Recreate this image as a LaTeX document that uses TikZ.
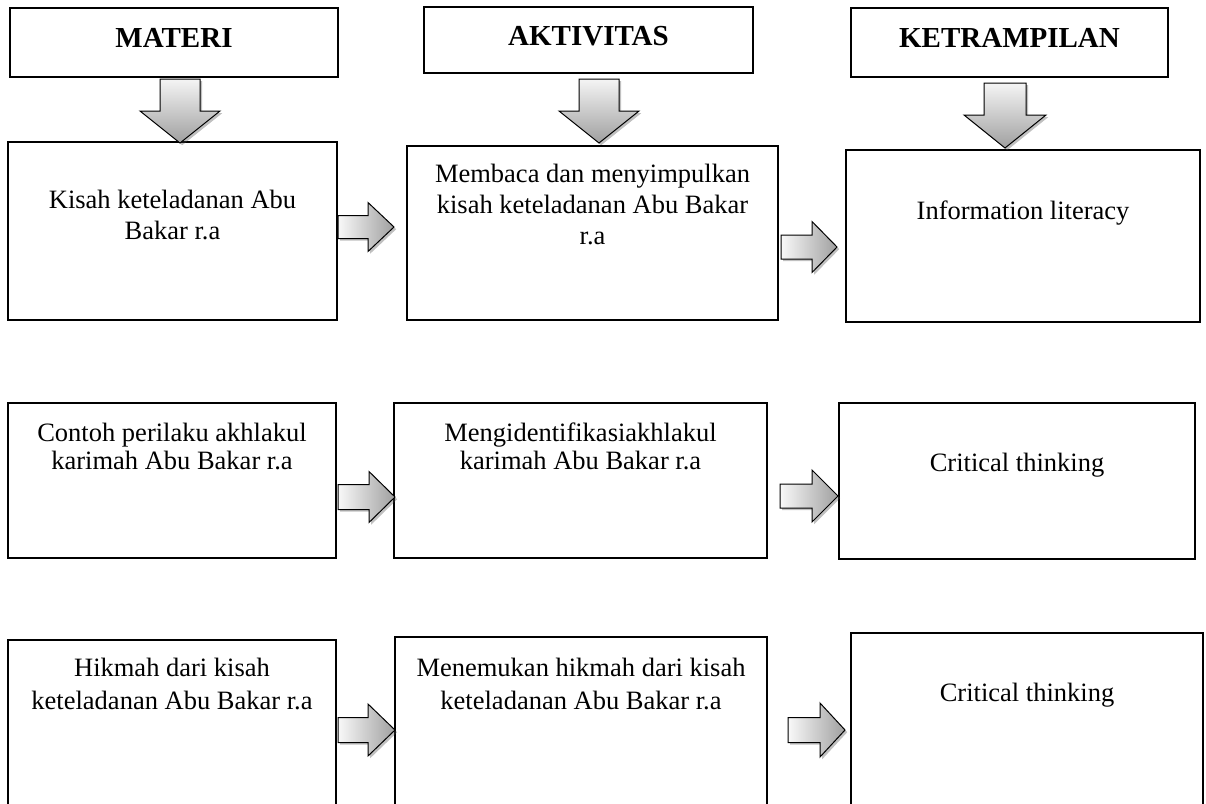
\documentclass[tikz,border=0pt]{standalone}
\usepackage{fontspec}
\setmainfont{Liberation Serif}
\usetikzlibrary{shadows,calc}
\tikzset{
  boxst/.style={draw=black, line width=1.1pt, fill=white, inner sep=0pt, outer sep=0pt, anchor=north west},
  headtxt/.style={font=\fontsize{29}{34}\selectfont\bfseries, anchor=base, inner sep=0pt},
  txt/.style={font=\fontsize{26.5}{#1}\selectfont, align=center, inner sep=0pt, anchor=north},
  txt/.default=30,
  arrowbase/.style={draw=black, line width=1pt, line join=miter,
    drop shadow={shadow xshift=2.2pt, shadow yshift=-2.2pt, opacity=0.35, fill=black!70}},
  downfill/.style={arrowbase, top color=gray!8, bottom color=gray!75},
  rightfill/.style={arrowbase, left color=gray!5, right color=gray!75},
}
% #1 start, #2 tip, #3 shaft half width, #4 head half width, #5 head length
\newcommand\myDownArrow[5]{\path[downfill] let \p1=(#1), \p2=(#2) in
  (\x1-#3,\y1) -- (\x1+#3,\y1) -- (\x1+#3,\y2+#5) -- (\x1+#4,\y2+#5) -- (\x2,\y2)
  -- (\x1-#4,\y2+#5) -- (\x1-#3,\y2+#5) -- cycle;}
\newcommand\myRightArrow[5]{\path[rightfill] let \p1=(#1), \p2=(#2) in
  (\x1,\y1+#3) -- (\x2-#5,\y1+#3) -- (\x2-#5,\y1+#4) -- (\x2,\y2)
  -- (\x2-#5,\y1-#4) -- (\x2-#5,\y1-#3) -- (\x1,\y1-#3) -- cycle;}
\begin{document}
\begin{tikzpicture}[x=1pt,y=-1pt]
\useasboundingbox (0,0) rectangle (1206,803);
\clip (0,0) rectangle (1206,803);
\fill[white] (0,0) rectangle (1206,803);

% header boxes
\node[boxst, minimum width=328pt, minimum height=69pt] (h1) at (10,8) {};
\node[boxst, minimum width=329pt, minimum height=66pt] (h2) at (424,7) {};
\node[boxst, minimum width=317pt, minimum height=69pt] (h3) at (851,8) {};
\node[headtxt] (h1t) at ($(h1.north)+(0,39)$) {MATERI};
\node[headtxt] (h2t) at ($(h2.north)+(0,38)$) {AKTIVITAS};
\node[headtxt] (h3t) at ($(h3.north)+(0,39)$) {KETRAMPILAN};

% row 1
\node[boxst, minimum width=329pt, minimum height=178pt] (b1) at (8,142) {};
\node[boxst, minimum width=371pt, minimum height=174pt] (b2) at (407,146) {};
\node[boxst, minimum width=354pt, minimum height=172pt] (b3) at (846,150) {};
\node[txt=31] (b1t) at ($(b1.north)+(0,44.3)$) {\strut Kisah keteladanan Abu\\\strut Bakar r.a};
\node[txt=31] (b2t) at ($(b2.north)+(0,14.3)$) {\strut Membaca dan menyimpulkan\\\strut kisah keteladanan Abu Bakar\\\strut r.a};
\node[txt] (b3t) at ($(b3.north)+(0,48)$) {\strut Information literacy};

% row 2
\node[boxst, minimum width=328pt, minimum height=155pt] (b4) at (8,403) {};
\node[boxst, minimum width=373pt, minimum height=155pt] (b5) at (394,403) {};
\node[boxst, minimum width=356pt, minimum height=156pt] (b6) at (839,403) {};
\node[txt=28] (b4t) at ($(b4.north)+(0,18.4)$) {\strut Contoh perilaku akhlakul\\\strut karimah Abu Bakar r.a};
\node[txt=28] (b5t) at ($(b5.north)+(0,18.4)$) {\strut Mengidentifikasiakhlakul\\\strut karimah Abu Bakar r.a};
\node[txt] (b6t) at ($(b6.north)+(0,47)$) {\strut Critical thinking};

% row 3
\node[boxst, minimum width=328pt, minimum height=190pt] (b7) at (8,640) {};
\node[boxst, minimum width=372pt, minimum height=190pt] (b8) at (395,637) {};
\node[boxst, minimum width=352pt, minimum height=190pt] (b9) at (851,633) {};
\node[txt=33] (b7t) at ($(b7.north)+(0,12.9)$) {\strut Hikmah dari kisah\\\strut keteladanan Abu Bakar r.a};
\node[txt=33] (b8t) at ($(b8.north)+(0,15.9)$) {\strut Menemukan hikmah dari kisah\\\strut keteladanan Abu Bakar r.a};
\node[txt] (b9t) at ($(b9.north)+(0,47)$) {\strut Critical thinking};

% arrow anchor coordinates
\coordinate (d1s) at (180,79);   \coordinate (d1e) at (180,143);
\coordinate (d2s) at (599,79);   \coordinate (d2e) at (599,143);
\coordinate (d3s) at (1005,83);  \coordinate (d3e) at (1005,148);
\coordinate (r1s) at (338,227);  \coordinate (r1e) at (394,227);
\coordinate (r2s) at (781,247);  \coordinate (r2e) at (837,247);
\coordinate (r3s) at (338,497);  \coordinate (r3e) at (395,497);
\coordinate (r4s) at (780,496);  \coordinate (r4e) at (838,496);
\coordinate (r5s) at (338,730);  \coordinate (r5e) at (395,730);
\coordinate (r6s) at (788,730);  \coordinate (r6e) at (845,730);

\myDownArrow{d1s}{d1e}{20pt}{40pt}{32pt}
\myDownArrow{d2s}{d2e}{20pt}{40pt}{32pt}
\myDownArrow{d3s}{d3e}{21pt}{41pt}{33pt}
\myRightArrow{r1s}{r1e}{11.5pt}{24.5pt}{26pt}
\myRightArrow{r2s}{r2e}{12pt}{25.5pt}{25pt}
\myRightArrow{r3s}{r3e}{12.5pt}{25.5pt}{26pt}
\myRightArrow{r4s}{r4e}{12pt}{26pt}{26pt}
\myRightArrow{r5s}{r5e}{12.5pt}{26pt}{27pt}
\myRightArrow{r6s}{r6e}{12.5pt}{27pt}{25pt}
\end{tikzpicture}
\end{document}
